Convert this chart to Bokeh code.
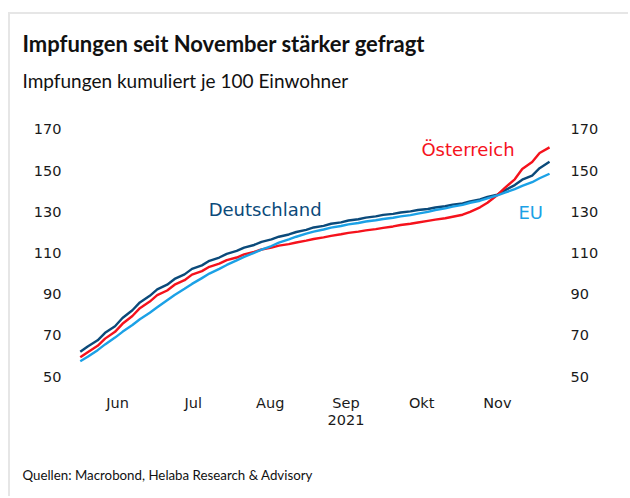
import pandas as pd
from bokeh.plotting import figure
from bokeh.models import Range1d, FixedTicker, LinearAxis, DatetimeAxis, Label, Title
from bokeh.embed import file_html
from bokeh.resources import INLINE

# ---------------- data ----------------
dates = [
    "2021-06-01", "2021-06-04", "2021-06-08", "2021-06-11", "2021-06-15", "2021-06-18",
    "2021-06-22", "2021-06-25", "2021-06-29", "2021-07-02", "2021-07-06", "2021-07-09",
    "2021-07-13", "2021-07-16", "2021-07-20", "2021-07-23", "2021-07-27", "2021-07-30",
    "2021-08-03", "2021-08-06", "2021-08-10", "2021-08-13", "2021-08-17", "2021-08-20",
    "2021-08-24", "2021-08-27", "2021-08-31", "2021-09-03", "2021-09-07", "2021-09-10",
    "2021-09-14", "2021-09-17", "2021-09-21", "2021-09-24", "2021-09-28", "2021-10-01",
    "2021-10-05", "2021-10-08", "2021-10-12", "2021-10-15", "2021-10-19", "2021-10-22",
    "2021-10-26", "2021-10-29", "2021-11-02", "2021-11-05", "2021-11-09", "2021-11-12",
    "2021-11-16", "2021-11-19", "2021-11-23", "2021-11-26", "2021-11-30", "2021-12-03",
    "2021-12-07",
]
deutschland = [
    62.0, 64.6, 67.6, 71.2, 74.4, 78.4, 82.2, 86.0, 89.2, 92.3, 94.6, 97.4,
    99.6, 102.3, 104.0, 106.2, 107.8, 109.6, 111.0, 112.6, 113.9, 115.4, 116.6, 117.9,
    119.0, 120.2, 121.2, 122.4, 123.2, 124.2, 124.9, 125.8, 126.4, 127.2, 127.8, 128.5,
    129.0, 129.7, 130.2, 130.9, 131.4, 132.1, 132.7, 133.5, 134.1, 135.1, 136.0, 137.2,
    138.4, 140.4, 143.0, 145.6, 147.6, 151.2, 154.3,
]
oesterreich = [
    59.3, 61.8, 64.9, 68.4, 71.7, 75.6, 79.4, 83.2, 86.4, 89.5, 91.8, 94.6,
    96.8, 99.5, 101.2, 103.3, 104.8, 106.5, 107.8, 109.3, 110.5, 111.7, 112.6, 113.6,
    114.3, 115.1, 116.0, 116.8, 117.6, 118.3, 119.1, 119.8, 120.4, 121.0, 121.6, 122.2,
    122.9, 123.6, 124.2, 124.8, 125.6, 126.2, 126.9, 127.6, 128.6, 130.0, 132.2, 134.4,
    138.2, 141.6, 145.8, 150.8, 154.2, 158.6, 161.3,
]
eu = [
    57.4, 59.6, 62.8, 65.6, 68.9, 71.7, 75.0, 77.8, 81.0, 83.6, 87.0, 89.6,
    92.6, 95.0, 97.8, 100.0, 102.3, 104.2, 106.4, 108.1, 110.1, 111.6, 113.4, 115.0,
    116.6, 117.9, 119.4, 120.4, 121.4, 122.3, 123.1, 123.9, 124.6, 125.3, 125.9, 126.5,
    127.1, 127.8, 128.4, 129.1, 130.0, 130.9, 131.7, 132.5, 133.4, 134.4, 135.4, 136.5,
    138.0, 139.3, 141.0, 142.6, 144.4, 146.3, 148.5,
]
y_ticks = [50, 70, 90, 110, 130, 150, 170]
month_tick_dates = ["2021-06-16", "2021-07-16 12:00", "2021-08-16 12:00",
                    "2021-09-16", "2021-10-16 12:00", "2021-11-16"]
month_labels = ["Jun", "Jul", "Aug", "Sep", "Okt", "Nov"]
year_tick_date = "2021-09-16"
year_label = "2021"

title_text = "Impfungen seit November stärker gefragt"
subtitle_text = "Impfungen kumuliert je 100 Einwohner"
source_text = "Quellen: Macrobond, Helaba Research & Advisory"

series_names = ["Deutschland", "Österreich", "EU"]
colors = {"Deutschland": "#0b4a7a", "Österreich": "#f5121c", "EU": "#1ba1e6"}
label_pos = {  # (date, value) where each series label is written
    "Deutschland": ("2021-07-22 17:00", 131.1),
    "Österreich": ("2021-10-16 10:00", 160.3),
    "EU": ("2021-11-24 12:00", 129.7),
}


def ms(s):
    return float(pd.Timestamp(s).value // 10**6)


x = pd.to_datetime(dates)

TICK_FONT = "DejaVu Sans"
TEXT_FONT = "Lato"

p = figure(
    width=620, height=484,
    x_axis_type="datetime",
    x_range=Range1d(ms("2021-05-30 02:00"), ms("2021-12-10 05:00")),
    y_range=Range1d(45.63, 174.37),
    output_backend="svg", toolbar_location=None,
    min_border_left=65, min_border_right=73, min_border_top=106, min_border_bottom=113,
)
p.styles = {"margin-left": "8px", "margin-top": "12px",
            "border-left": "2px solid #e6e6e6", "border-top": "2px solid #e6e6e6"}
p.outline_line_color = None
p.xgrid.visible = False
p.ygrid.visible = False


def spacer(standoff):
    # blank title (non-breaking space) used only to make room between panels
    return Title(text="\u00a0", text_font_size="10px", standoff=standoff)


# titles: main title outermost, then subtitle, then a gap to the plot
p.title.text = title_text
p.title.align = "left"
p.title.offset = -53
p.title.text_font = TEXT_FONT
p.title.text_font_size = "22px"
p.title.text_font_style = "bold"
p.title.text_color = "#111111"
p.title.standoff = 10
p.add_layout(spacer(11), "above")
subtitle = Title(text=subtitle_text, align="left", offset=-53, text_font=TEXT_FONT,
                 text_font_size="19px", text_font_style="normal", text_color="#111111",
                 standoff=10)
p.add_layout(subtitle, "above")

# lines
for name, vals in zip(series_names, [deutschland, oesterreich, eu]):
    p.line(x, vals, line_color=colors[name], line_width=2.4, line_join="round")

for name in series_names:
    d, v = label_pos[name]
    p.add_layout(Label(x=ms(d), y=v, text=name, text_color=colors[name],
                       text_font=TICK_FONT, text_font_size="18px",
                       text_baseline="middle", text_align="left"))


def style_axis(ax, standoff):
    ax.axis_line_color = None
    ax.major_tick_line_color = None
    ax.minor_tick_line_color = None
    ax.major_label_text_font = TICK_FONT
    ax.major_label_text_font_size = "14.5px"
    ax.major_label_text_color = "#1a1a1a"
    ax.major_label_standoff = standoff


# y axes
p.yaxis.ticker = FixedTicker(ticks=y_ticks)
style_axis(p.yaxis[0], 8)
right = LinearAxis(ticker=FixedTicker(ticks=y_ticks))
style_axis(right, 7)
p.add_layout(right, "right")

# x axes
month_ticks = [ms(d) for d in month_tick_dates]
p.xaxis.ticker = FixedTicker(ticks=month_ticks)
p.xaxis.major_label_overrides = {t: l for t, l in zip(month_ticks, month_labels)}
style_axis(p.xaxis[0], 3)
year_axis = DatetimeAxis(ticker=FixedTicker(ticks=[ms(year_tick_date)]),
                         major_label_overrides={ms(year_tick_date): year_label})
style_axis(year_axis, -5)
p.add_layout(year_axis, "below")

p.add_layout(spacer(24), "below")
source = Title(text=source_text, align="left", offset=-53, text_font=TEXT_FONT,
               text_font_size="13.3px", text_font_style="normal", text_color="#111111",
               standoff=0)
p.add_layout(source, "below")

open("out.html", "w").write(file_html(p, INLINE))
